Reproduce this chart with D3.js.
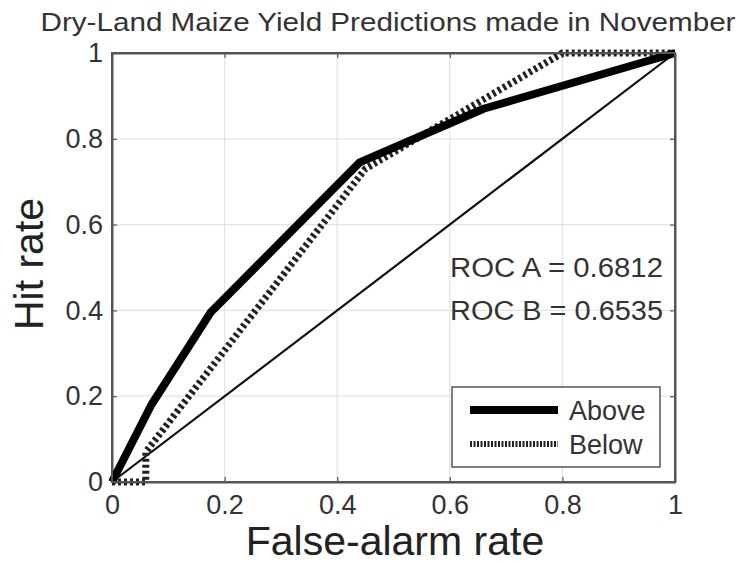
<!DOCTYPE html>
<html>
<head>
<meta charset="utf-8">
<script src="https://cdn.jsdelivr.net/npm/d3@7"></script>
<style>
  body { margin: 0; background: #fff; }
  text { font-family: "Liberation Sans", Arial, sans-serif; }
</style>
</head>
<body>
<svg id="chart" width="742" height="570"></svg>
<script>
// ROC curves
const aboveFar = [0, 0.07, 0.175, 0.44, 0.66, 1];
const aboveHit = [0, 0.18, 0.395, 0.745, 0.87, 1];
const belowFar = [0, 0.06, 0.06, 0.45, 0.8, 1];
const belowHit = [0, 0, 0.07, 0.73, 1, 1];
const refLine = [0, 1];
const ticks = [0, 0.2, 0.4, 0.6, 0.8, 1];
const tickLabels = ["0", "0.2", "0.4", "0.6", "0.8", "1"];
const rocLabels = ["ROC A = 0.6812", "ROC B = 0.6535"];
const legendNames = ["Above", "Below"];

const svg = d3.select("#chart");
const pLeft = 112, pRight = 675, pTop = 53, pBottom = 482;

const xs = d3.scaleLinear().domain([0, 1]).range([pLeft, pRight]);
const ys = d3.scaleLinear().domain([0, 1]).range([pBottom, pTop]);

// grid
svg.append("g").selectAll("line")
  .data(ticks.slice(1, -1)).join("line")
  .attr("x1", d => xs(d)).attr("x2", d => xs(d))
  .attr("y1", pTop).attr("y2", pBottom)
  .attr("stroke", "#e3e3e3").attr("stroke-width", 1.2);
svg.append("g").selectAll("line")
  .data(ticks.slice(1, -1)).join("line")
  .attr("y1", d => ys(d)).attr("y2", d => ys(d))
  .attr("x1", pLeft).attr("x2", pRight)
  .attr("stroke", "#e3e3e3").attr("stroke-width", 1.2);

// axes (ticks inside, like matlab)
const fmt = d => tickLabels[ticks.indexOf(d)];
const xAxis = svg.append("g")
  .attr("transform", `translate(0,${pBottom})`)
  .call(d3.axisBottom(xs).tickValues(ticks).tickFormat(fmt).tickSizeInner(-5).tickSizeOuter(0).tickPadding(13));
const yAxis = svg.append("g")
  .attr("transform", `translate(${pLeft},0)`)
  .call(d3.axisLeft(ys).tickValues(ticks).tickFormat(fmt).tickSizeInner(-5).tickSizeOuter(0).tickPadding(9));
// top / right mirror ticks
svg.append("g").attr("transform", `translate(0,${pTop})`)
  .call(d3.axisTop(xs).tickValues(ticks).tickFormat("").tickSizeInner(-5).tickSizeOuter(0));
svg.append("g").attr("transform", `translate(${pRight},0)`)
  .call(d3.axisRight(ys).tickValues(ticks).tickFormat("").tickSizeInner(-5).tickSizeOuter(0));

svg.selectAll(".domain").attr("stroke", "#555").attr("stroke-width", 2);
svg.selectAll(".tick line").attr("stroke", "#555").attr("stroke-width", 1.2);
svg.selectAll(".tick text").attr("font-size", 27).attr("fill", "#333")
  .attr("font-family", "Liberation Sans, Arial, sans-serif");
xAxis.selectAll(".tick text").attr("dy", "0.71em");

// reference diagonal
const line = d3.line().x(d => xs(d[0])).y(d => ys(d[1]));
svg.append("path")
  .datum(refLine.map(v => [v, v]))
  .attr("d", line).attr("fill", "none")
  .attr("stroke", "#111").attr("stroke-width", 2.2);

// below: dotted
svg.append("path")
  .datum(belowFar.map((v, i) => [v, belowHit[i]]))
  .attr("d", line).attr("fill", "none")
  .attr("stroke", "#222").attr("stroke-width", 7)
  .attr("stroke-dasharray", "3,3");

// above: solid
svg.append("path")
  .datum(aboveFar.map((v, i) => [v, aboveHit[i]]))
  .attr("d", line).attr("fill", "none")
  .attr("stroke", "#000").attr("stroke-width", 8)
  .attr("stroke-linejoin", "round");

// box outline on top
svg.append("rect")
  .attr("x", pLeft).attr("y", pTop)
  .attr("width", pRight - pLeft).attr("height", pBottom - pTop)
  .attr("fill", "none").attr("stroke", "#555").attr("stroke-width", 2);

// ROC annotations
svg.selectAll("text.roc").data(rocLabels).join("text")
  .attr("class", "roc")
  .attr("x", 450).attr("y", (d, i) => 277 + i * 43)
  .attr("font-size", 27).attr("fill", "#333")
  .attr("textLength", 213).attr("lengthAdjust", "spacingAndGlyphs")
  .text(d => d);

// legend
const lg = svg.append("g");
lg.append("rect").attr("x", 452).attr("y", 387).attr("width", 208).attr("height", 80)
  .attr("fill", "#fff").attr("stroke", "#555").attr("stroke-width", 1.5);
lg.selectAll("line").data(legendNames).join("line")
  .attr("x1", 470).attr("x2", 558)
  .attr("y1", (d, i) => 410 + i * 34).attr("y2", (d, i) => 410 + i * 34)
  .attr("stroke", (d, i) => i ? "#222" : "#000")
  .attr("stroke-width", (d, i) => i ? 6 : 8)
  .attr("stroke-dasharray", (d, i) => i ? "2,1.5" : null);
lg.selectAll("text").data(legendNames).join("text")
  .attr("x", 569).attr("y", (d, i) => 420 + i * 34)
  .attr("font-size", 27).attr("fill", "#333")
  .text(d => d);

// titles
svg.append("text")
  .attr("x", 388).attr("y", 31)
  .attr("text-anchor", "middle")
  .attr("font-size", 26).attr("fill", "#333")
  .attr("textLength", 695).attr("lengthAdjust", "spacingAndGlyphs")
  .text("Dry-Land Maize Yield Predictions made in November");

svg.append("text")
  .attr("x", 395).attr("y", 555)
  .attr("text-anchor", "middle")
  .attr("font-size", 41).attr("fill", "#222")
  .text("False-alarm rate");

svg.append("text")
  .attr("transform", "translate(43,264) rotate(-90)")
  .attr("text-anchor", "middle")
  .attr("font-size", 41).attr("fill", "#222")
  .text("Hit rate");
</script>
</body>
</html>
